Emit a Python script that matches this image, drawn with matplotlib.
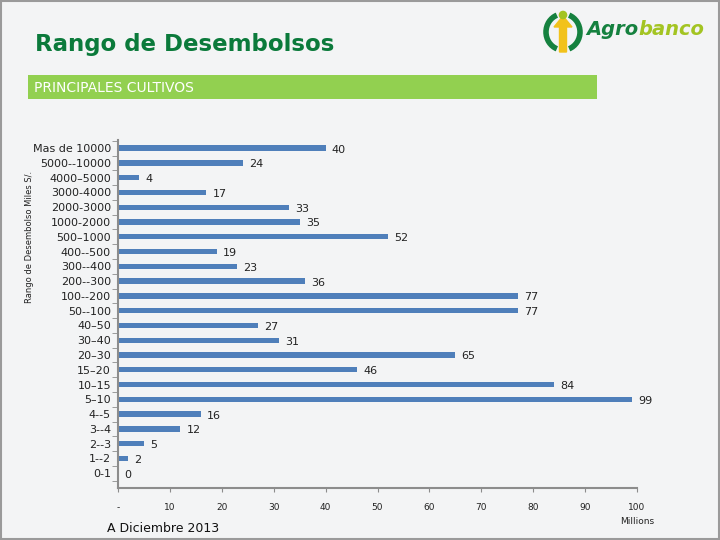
import numpy as np
import matplotlib.pyplot as plt
from matplotlib.patches import Rectangle, Arc, FancyArrow, Circle

# data, top to bottom as in the chart
rangos = ['Mas de 10000', '5000--10000', '4000\u20135000', '3000-4000', '2000-3000',
          '1000-2000', '500\u20131000', '400--500', '300--400', '200--300',
          '100--200', '50--100', '40\u201350', '30\u201340', '20\u201330', '15\u201320',
          '10\u201315', '5\u201310', '4--5', '3--4', '2--3', '1--2', '0-1']
montos = [40, 24, 4, 17, 33, 35, 52, 19, 23, 36, 77, 77, 27, 31, 65, 46, 84, 99,
          16, 12, 5, 2, 0]
x_ticks = [0, 10, 20, 30, 40, 50, 60, 70, 80, 90, 100]
x_labels = ['-', '10', '20', '30', '40', '50', '60', '70', '80', '90', '100']

bar_color = '#4f7fba'
axis_color = '#8c8c8c'

fig = plt.figure(figsize=(7.2, 5.4), dpi=100)
fig.patch.set_facecolor('#f3f4f5')
fig.patches.append(Rectangle((0.001, 0.001), 0.998, 0.998, transform=fig.transFigure,
                             fill=False, edgecolor='#9a9a9a', linewidth=1.5))

# header
fig.text(0.048, 0.917, 'Rango de Desembolsos', color='#0b7a3b', fontsize=16.5,
         fontweight='bold', va='center')
fig.patches.append(Rectangle((28 / 720, 1 - 99 / 540), (597 - 28) / 720, 24 / 540,
                             transform=fig.transFigure, facecolor='#92d050',
                             edgecolor='none'))
fig.text(34 / 720, 1 - 88 / 540, 'PRINCIPALES CULTIVOS', color='white', fontsize=10,
         va='center')

# logo
fig.text(0.886, 0.945, 'Agro', color='#15813f', fontsize=14, fontweight='bold',
         style='italic', va='center', ha='right')
fig.text(0.886, 0.945, 'banco', color='#a3c422', fontsize=14, fontweight='bold',
         style='italic', va='center', ha='left')
icon = fig.add_axes([543 / 720, 1 - 54 / 540, 40 / 720, 46 / 540])
icon.set_xlim(-1, 1)
icon.set_ylim(-1.15, 1.15)
icon.axis('off')
icon.add_patch(Arc((0, -0.05), 1.7, 1.8, theta1=110, theta2=250, color='#15813f', lw=4))
icon.add_patch(Arc((0, -0.05), 1.7, 1.8, theta1=-70, theta2=70, color='#15813f', lw=4))
icon.add_patch(FancyArrow(0, -1.05, 0, 1.25, width=0.35, head_width=0.9,
                          head_length=0.55, color='#f2c21b'))
icon.add_patch(Circle((0, 0.8), 0.18, color='#a3c422'))

ax = fig.add_axes([118 / 720, 52 / 540, (637 - 118) / 720, (488 - 140) / 540])
ax.set_facecolor('none')

y = np.arange(len(rangos))[::-1]
ax.barh(y, montos, height=0.36, color=bar_color)
for yi, v in zip(y, montos):
    ax.text(v + 1.2, yi - 0.1, str(v), fontsize=8, va='center', ha='left',
            color='#222222')

ax.set_xlim(0, 100)
ax.set_ylim(-1.0, 22.55)
ax.set_yticks(y)
ax.set_yticklabels(rangos, fontsize=8, color='#222222')
ax.set_yticks(np.arange(-0.5, 22.6, 1), minor=True)
ax.tick_params(axis='y', which='major', length=0, pad=5)
ax.tick_params(axis='y', which='minor', length=4, color=axis_color, direction='out')
ax.set_xticks(x_ticks)
ax.set_xticklabels(x_labels, fontsize=6.5, color='#222222')
ax.tick_params(axis='x', length=3, color=axis_color, pad=8)

for side in ['top', 'right']:
    ax.spines[side].set_visible(False)
for side in ['left', 'bottom']:
    ax.spines[side].set_color(axis_color)
    ax.spines[side].set_linewidth(1.5)

ax.text(100, -3.3, 'Millions', fontsize=6.5, ha='center', va='center', color='#222222')
fig.text(30 / 720, 1 - 237 / 540, 'Rango de Desembolso Miles S/.', rotation=90,
         fontsize=6, va='center', ha='center', color='#222222')
fig.text(107 / 720, 1 - 528 / 540, 'A Diciembre 2013', fontsize=9, va='center',
         color='#111111')

fig.savefig('out.png', dpi=100, facecolor=fig.get_facecolor())
